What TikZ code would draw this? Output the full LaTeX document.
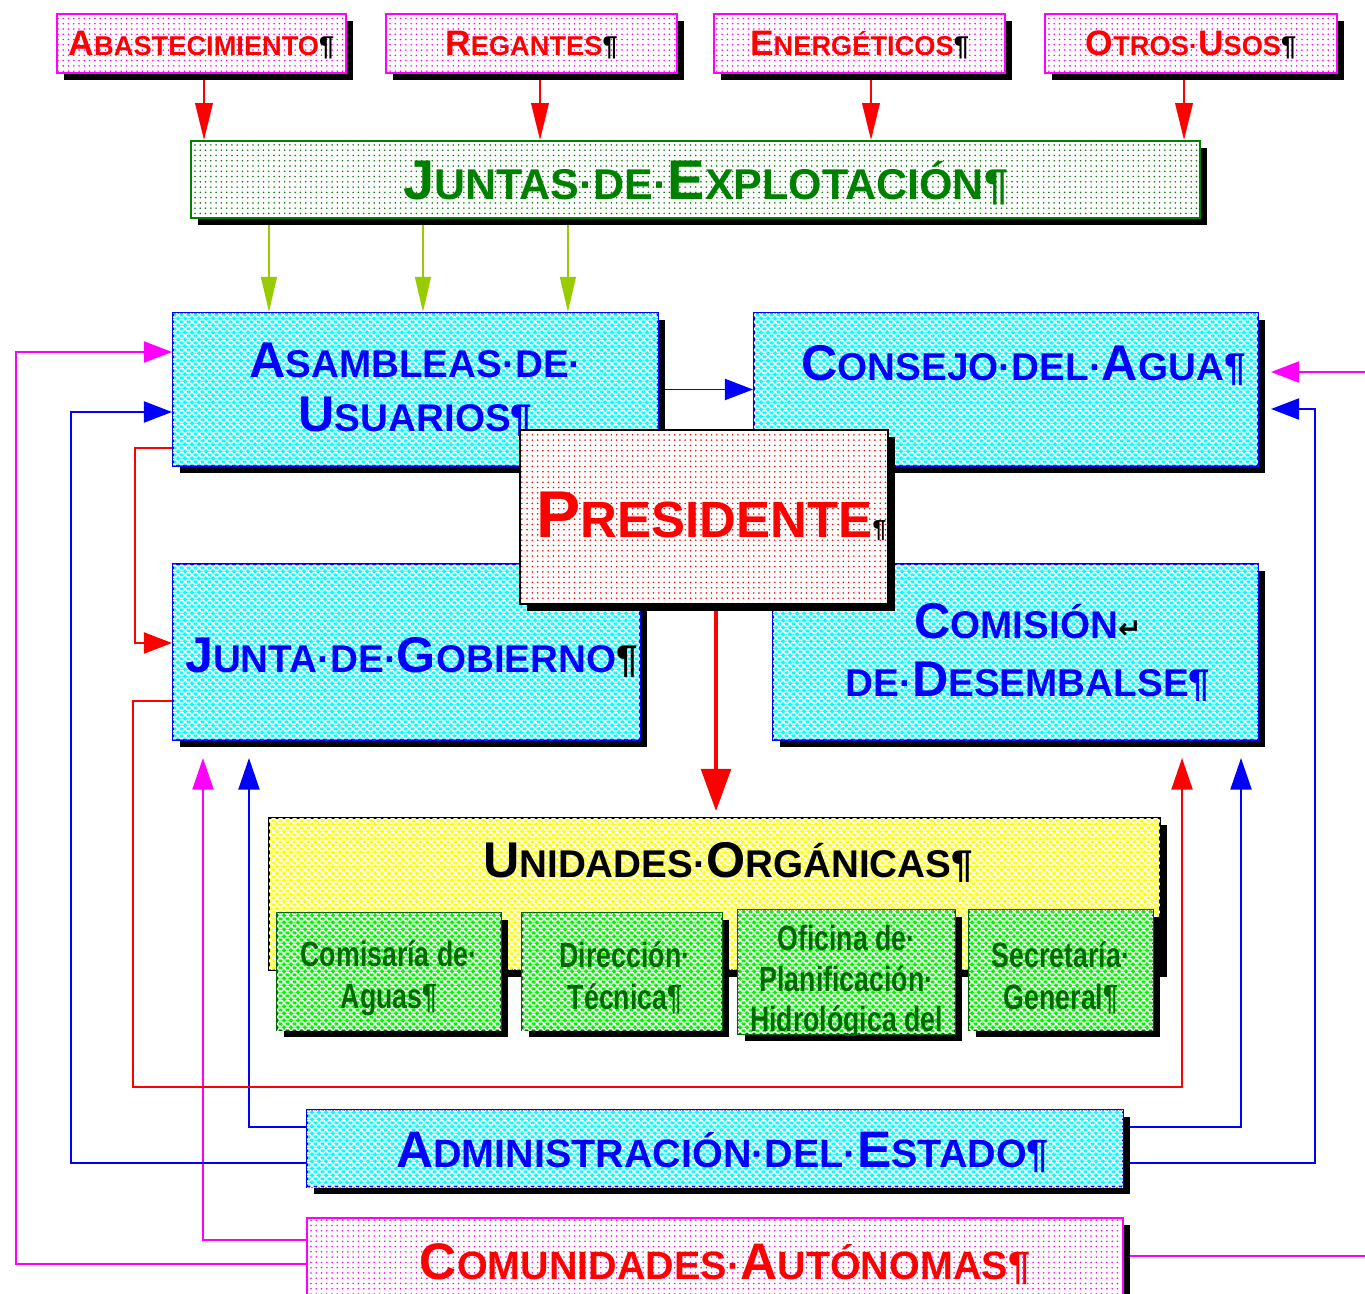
\documentclass[tikz,border=0pt]{standalone}
\usepackage{fontspec}
\setmainfont{Liberation Sans}
\newfontfamily\narrowf[FakeStretch=0.76]{Liberation Sans}
\newfontfamily\dejavu{DejaVu Sans}
\usetikzlibrary{arrows.meta,patterns,shadows,backgrounds,calc}
\definecolor{dgreen}{RGB}{0,128,0}
\definecolor{tgreen}{RGB}{0,105,0}
\definecolor{ygreen}{RGB}{153,204,0}
\definecolor{lgreen}{RGB}{0,245,0}
\definecolor{cyanc}{RGB}{0,255,255}
\definecolor{magc}{RGB}{255,0,255}
\definecolor{yelc}{RGB}{255,255,0}
\definecolor{redc}{RGB}{255,0,0}
\definecolor{bluec}{RGB}{0,0,255}
\pgfdeclarepatterninherentlycolored{whitehatch}{\pgfpointorigin}{\pgfqpoint{4pt}{4pt}}{\pgfqpoint{4pt}{4pt}}{%
  \pgfsetcolor{white}\pgfsetlinewidth{0.9pt}%
  \pgfpathmoveto{\pgfqpoint{0pt}{0pt}}\pgfpathlineto{\pgfqpoint{4pt}{4pt}}%
  \pgfpathmoveto{\pgfqpoint{0pt}{4pt}}\pgfpathlineto{\pgfqpoint{4pt}{0pt}}%
  \pgfusepath{stroke}}
\newcommand\Ini[1]{\scalebox{1.3}{#1}}
\tikzset{
  shad/.style={drop shadow={shadow xshift=0.14cm, shadow yshift=-0.14cm, opacity=1, fill=black}},
  dotbox/.style 2 args={shad, draw=#1, line width=1.2pt, preaction={fill=white}, pattern=dots, pattern color=#2, inner sep=0pt, align=center},
  hatchbox/.style 2 args={shad, draw=#1, line width=1.2pt, fill=#2,
     postaction={pattern=whitehatch}, inner sep=0pt, align=center},
  cyanbox/.style={hatchbox={bluec}{cyanc}, text=bluec},
  greenbox/.style={hatchbox={tgreen}{lgreen}},
  greentext/.style={text=tgreen, align=center, inner sep=0pt, font=\narrowf\bfseries\fontsize{20}{24}\selectfont},
  conn/.style={line width=1.1pt},
  tipS/.style={-{Triangle[length=16pt,width=12pt]}},
  tipU/.style={-{Triangle[length=18pt,width=12pt]}},
  tipTop/.style={-{Triangle[length=21pt,width=10pt]}},
  tipYG/.style={-{Triangle[length=20pt,width=9pt]}},
}
\begin{document}
\begin{tikzpicture}[x=0.02cm,y=-0.02cm]
\useasboundingbox (0,0) rectangle (1365,1294);
\clip (0,0) rectangle (1365,1294);

% top source boxes
\node[dotbox={magc}{magc}, minimum width=5.78cm, minimum height=1.18cm, text=redc, font=\bfseries\fontsize{15.5}{18}\selectfont] (abas) at (201.5,43.5) {\raisebox{-0.25cm}[0pt][0pt]{\Ini{A}BASTECIMIENTO{\color{black}¶}}};
\node[dotbox={magc}{magc}, minimum width=5.82cm, minimum height=1.18cm, text=redc, font=\bfseries\fontsize{15.5}{18}\selectfont] (reg) at (531.5,43.5) {\raisebox{-0.25cm}[0pt][0pt]{\Ini{R}EGANTES{\color{black}¶}}};
\node[dotbox={magc}{magc}, minimum width=5.82cm, minimum height=1.18cm, text=redc, font=\bfseries\fontsize{15.5}{18}\selectfont] (ener) at (859.5,43.5) {\raisebox{-0.25cm}[0pt][0pt]{\Ini{E}NERGÉTICOS{\color{black}¶}}};
\node[dotbox={magc}{magc}, minimum width=5.84cm, minimum height=1.18cm, text=redc, font=\bfseries\fontsize{15.5}{18}\selectfont] (otros) at (1191,43.5) {\raisebox{-0.25cm}[0pt][0pt]{\Ini{O}TROS·\Ini{U}SOS{\color{black}¶}}};

% juntas de explotacion
\node[dotbox={dgreen}{dgreen}, minimum width=20.18cm, minimum height=1.54cm, text=dgreen, font=\bfseries\fontsize{24.5}{28}\selectfont] (juntas) at (695.5,179.5) {\hspace*{0.4cm}\raisebox{-0.41cm}[0pt][0pt]{\Ini{J}UNTAS·DE·\Ini{E}XPLOTACIÓN¶}};

% cyan boxes
\node[cyanbox, minimum width=9.70cm, minimum height=3.06cm, font=\bfseries\fontsize{22}{31}\selectfont] (asam) at (415.5,389.5) {\Ini{A}SAMBLEAS·DE·\\\Ini{U}SUARIOS¶};
\node[cyanbox, minimum width=10.08cm, minimum height=3.06cm, font=\bfseries\fontsize{22}{31}\selectfont] (consejo) at (1006,389.5) {\hspace*{0.7cm}\raisebox{0.19cm}[0pt][0pt]{\Ini{C}ONSEJO·DEL·\Ini{A}GUA¶}};
\node[cyanbox, minimum width=9.34cm, minimum height=3.52cm, font=\bfseries\fontsize{22}{31}\selectfont] (junta) at (406.5,652) {\hspace*{0.2cm}\raisebox{-0.4cm}[0pt][0pt]{\Ini{J}UNTA·DE·\Ini{G}OBIERNO{\color{black}¶}}};
\node[cyanbox, minimum width=9.70cm, minimum height=3.52cm, font=\bfseries\fontsize{22}{33}\selectfont] (comision) at (1015.5,652) {\hspace*{0.5cm}\Ini{C}OMISIÓN{\color{black}\dejavu\fontsize{16}{16}\selectfont ↵}\\\hspace*{0.5cm}DE·\Ini{D}ESEMBALSE¶};

% presidente
\node[dotbox={black}{redc}, minimum width=7.36cm, minimum height=3.48cm, text=redc, font=\bfseries\fontsize{29}{34}\selectfont] (pres) at (704,517) {\hspace*{0.3cm}\raisebox{-0.42cm}[0pt][0pt]{\Ini{P}RESIDENTE{\color{black}\fontsize{14}{14}\selectfont¶}}};

% unidades organicas
\node[hatchbox={black}{yelc}, minimum width=17.82cm, minimum height=3.04cm] (unidades) at (714.5,894) {};
\node[text=black, inner sep=0pt, font=\bfseries\fontsize{22}{26}\selectfont] (unidadesT) at (728,862) {\Ini{U}NIDADES·\Ini{O}RGÁNICAS¶};

\node[greenbox, minimum width=4.48cm, minimum height=2.34cm] (comaguas) at (389,971.5) {};
\node[greentext] (comaguasT) at (389,978) {Comisaría de·\\Aguas¶};
\node[greenbox, minimum width=4.00cm, minimum height=2.34cm] (direccion) at (622,971.5) {};
\node[greentext] (direccionT) at (625,978) {Dirección·\\Técnica¶};
\node[greenbox, minimum width=4.34cm, minimum height=2.48cm] (oficina) at (846.5,972) {};
\begin{scope}
\clip (oficina.south west) rectangle (oficina.north east);
\node[greentext, font=\narrowf\bfseries\fontsize{20}{23.3}\selectfont] (oficinaT) at (846.5,982) {Oficina de·\\Planificación·\\Hidrológica del};
\end{scope}
\node[greenbox, minimum width=3.68cm, minimum height=2.40cm] (secretaria) at (1061,970) {};
\node[greentext] (secretariaT) at (1061,978) {Secretaría·\\General¶};

% bottom boxes
\node[cyanbox, minimum width=16.32cm, minimum height=1.54cm, font=\bfseries\fontsize{22.5}{26}\selectfont] (admin) at (715,1148.5) {\hspace*{0.3cm}\raisebox{-0.38cm}[0pt][0pt]{\Ini{A}DMINISTRACIÓN·DEL·\Ini{E}STADO¶}};
\node[dotbox={magc}{magc}, minimum width=16.32cm, minimum height=1.84cm, text=redc, font=\bfseries\fontsize{22.5}{26}\selectfont] (comu) at (715,1264) {\hspace*{0.4cm}\raisebox{-0.3cm}[0pt][0pt]{\Ini{C}OMUNIDADES·\Ini{A}UTÓNOMAS¶}};

% rails and connection points
\coordinate (xM1) at (16,0);
\coordinate (xB1) at (71,0);
\coordinate (xR1) at (135,0);
\coordinate (xR2) at (133,0);
\coordinate (xB4) at (1315,0);
\coordinate (yR) at (0,1087);
\coordinate (xEdge) at (1365,0);
\coordinate (asamM) at ([yshift=0.75cm]asam.west);
\coordinate (asamB) at ([yshift=-0.45cm]asam.west);
\coordinate (asamR) at ([yshift=-1.17cm]asam.west);
\coordinate (juntaRin) at ([yshift=0.18cm]junta.west);
\coordinate (juntaRout) at ([yshift=-0.98cm]junta.west);
\coordinate (juntaM) at ([xshift=0.62cm,yshift=-0.34cm]junta.south west);
\coordinate (juntaB) at ([xshift=1.54cm,yshift=-0.34cm]junta.south west);
\coordinate (comR) at ([xshift=-1.54cm,yshift=-0.34cm]comision.south east);
\coordinate (comB) at ([xshift=-0.36cm,yshift=-0.34cm]comision.south east);
\coordinate (adminWu) at ([yshift=0.43cm]admin.west);
\coordinate (adminWl) at ([yshift=-0.29cm]admin.west);
\coordinate (adminEu) at ([yshift=0.43cm]admin.east);
\coordinate (adminEl) at ([yshift=-0.29cm]admin.east);
\coordinate (comuWu) at ([yshift=0.48cm]comu.west);
\coordinate (comuWl) at (comu.west);
\coordinate (comuE) at ([yshift=0.16cm]comu.east);
\coordinate (consM) at ([xshift=0.24cm,yshift=0.35cm]consejo.east);
\coordinate (consB) at ([xshift=0.24cm,yshift=-0.39cm]consejo.east);
\coordinate (ra) at ([xshift=0.05cm]abas.south);
\coordinate (rr) at ([xshift=0.17cm]reg.south);
\coordinate (re) at ([xshift=0.23cm]ener.south);
\coordinate (ro) at ([xshift=-0.14cm]otros.south);
\coordinate (yg1) at ([xshift=1.94cm]asam.north west);
\coordinate (yg2) at ([xshift=5.02cm]asam.north west);
\coordinate (yg3) at ([xshift=7.92cm]asam.north west);
\coordinate (pa) at ([xshift=0.24cm]pres.south);

\begin{scope}[on background layer]
% top red arrows
\foreach \p in {ra,rr,re,ro}
  \draw[conn, redc, tipTop] (\p) -- (\p |- juntas.north);
% juntas to asambleas
\foreach \p in {yg1,yg2,yg3}
  \draw[conn, ygreen, tipYG] (\p |- juntas.south) -- (\p);
% asambleas to consejo
\draw[conn, bluec, tipS] (asam.east) -- (consejo.west);
% presidente to unidades
\draw[line width=1.8pt, redc, -{Triangle[length=24pt,width=17pt]}, shorten >=0.12cm] (pa) -- (pa |- unidades.north);
% left side
\draw[conn, magc, tipS] (comuWl) -- (comuWl -| xM1) -- (xM1 |- asamM) -- (asamM);
\draw[conn, magc, tipU] (comuWu) -- (comuWu -| juntaM) -- (juntaM);
\draw[conn, bluec, tipS] (adminWl) -- (adminWl -| xB1) -- (xB1 |- asamB) -- (asamB);
\draw[conn, bluec, tipU] (adminWu) -- (adminWu -| juntaB) -- (juntaB);
\draw[conn, redc, tipS] (asamR) -- (asamR -| xR1) -- (xR1 |- juntaRin) -- (juntaRin);
\draw[conn, redc, tipU] (juntaRout) -- (juntaRout -| xR2) -- (xR2 |- yR) -- (yR -| comR) -- (comR);
% right side
\draw[conn, bluec, tipU] (adminEu) -- (adminEu -| comB) -- (comB);
\draw[conn, bluec, tipS] (adminEl) -- (adminEl -| xB4) -- (xB4 |- consB) -- (consB);
\draw[conn, magc] (comuE) -- (comuE -| xEdge);
\draw[conn, magc, tipS] (consM -| xEdge) -- (consM);
\end{scope}
\end{tikzpicture}
\end{document}
